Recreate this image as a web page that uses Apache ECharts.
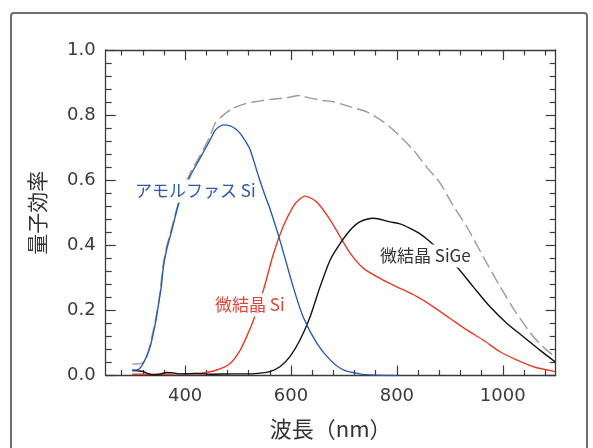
<!DOCTYPE html>
<html>
<head>
<meta charset="utf-8">
<script src="https://cdn.jsdelivr.net/npm/echarts@6/dist/echarts.min.js"></script>
<style>
html,body{margin:0;padding:0;background:#fff;}
#chart{width:593px;height:448px;}
</style>
</head>
<body>
<div id="chart"></div>
<script>
// ---- data ----
const xMajorTicks = [400, 600, 800, 1000];
const xMinorTicks = [280, 320, 360, 440, 480, 520, 560, 640, 680, 720, 760, 840, 880, 920, 960, 1040, 1080];

const amorphousX = [300, 312, 320, 327, 334, 340, 345, 349, 355, 359, 365, 375, 390, 409, 428, 447, 457, 465, 472, 485, 495, 504, 513, 523, 540, 554, 560, 579, 604, 623, 649, 674, 699, 730, 760, 800];
const amorphousY = [0.017, 0.019, 0.035, 0.058, 0.088, 0.13, 0.17, 0.211, 0.273, 0.334, 0.386, 0.447, 0.539, 0.611, 0.667, 0.723, 0.754, 0.765, 0.770, 0.767, 0.758, 0.744, 0.722, 0.693, 0.605, 0.539, 0.514, 0.416, 0.273, 0.18, 0.099, 0.048, 0.017, 0.005, 0.001, 0.0];

const totalX = [300, 318, 327, 340, 350, 359, 365, 375, 390, 409, 428, 447, 457, 472, 491, 516, 540, 560, 590, 617, 636, 660, 680, 711, 743, 774, 800, 831, 856, 882, 907, 932, 963, 995, 1026, 1058, 1083, 1099];
const totalY = [0.035, 0.037, 0.055, 0.14, 0.225, 0.345, 0.395, 0.455, 0.545, 0.62, 0.675, 0.735, 0.775, 0.800, 0.821, 0.836, 0.843, 0.848, 0.853, 0.860, 0.852, 0.845, 0.841, 0.826, 0.810, 0.780, 0.744, 0.693, 0.641, 0.590, 0.520, 0.457, 0.365, 0.273, 0.191, 0.119, 0.078, 0.058];

const microSiX = [300, 350, 400, 430, 460, 485, 504, 519, 529, 548, 567, 585, 604, 615, 627, 640, 651, 674, 693, 712, 737, 774, 806, 838, 869, 900, 932, 963, 995, 1026, 1058, 1099];
const microSiY = [0.004, 0.004, 0.005, 0.007, 0.017, 0.037, 0.078, 0.13, 0.17, 0.263, 0.375, 0.457, 0.519, 0.540, 0.551, 0.543, 0.529, 0.478, 0.426, 0.375, 0.329, 0.293, 0.268, 0.242, 0.211, 0.176, 0.14, 0.109, 0.073, 0.048, 0.027, 0.012];

const microSiGeX = [300, 315, 321, 330, 340, 352, 365, 378, 390, 420, 450, 490, 523, 545, 560, 579, 598, 617, 636, 655, 674, 693, 712, 730, 756, 787, 806, 825, 844, 866, 913, 944, 976, 1008, 1039, 1070, 1099];
const microSiGeY = [0.015, 0.014, 0.012, 0.006, 0.002, 0.004, 0.009, 0.008, 0.005, 0.006, 0.004, 0.005, 0.005, 0.008, 0.012, 0.027, 0.058, 0.109, 0.18, 0.273, 0.355, 0.406, 0.447, 0.472, 0.483, 0.472, 0.466, 0.452, 0.435, 0.406, 0.334, 0.273, 0.211, 0.16, 0.119, 0.078, 0.042];

const labels = {
  amorphous: 'アモルファス Si',
  microSi: '微結晶 Si',
  microSiGe: '微結晶 SiGe',
  xName: '波長（nm）',
  yName: '量子効率'
};

function pairs(xs, ys){ return xs.map((x,i)=>[x, ys[i]]); }

const chart = echarts.init(document.getElementById('chart'), null, {renderer:'canvas'});
const axisColor = '#3a3a3a';
const jpFont = "'Noto Sans CJK JP', sans-serif";
const numFont = "'DejaVu Sans', sans-serif";

function xAxisDef(pos, ticks, len, showLine, showLabel){
  return {
    type:'value', min:250, max:1100, position:pos,
    axisLine:{show:showLine, onZero:false, lineStyle:{color:axisColor, width:1.3}},
    axisTick:{show:true, inside:true, length:len, customValues:ticks, lineStyle:{color:axisColor, width:1.2}},
    axisLabel:{show:showLabel, customValues:ticks, fontSize:18, fontFamily:numFont, color:axisColor, margin:12,
      formatter:v=>String(v)},
    splitLine:{show:false}
  };
}
function yAxisDef(pos, showLabel){
  return {
    type:'value', min:0, max:1, interval:0.2, position:pos,
    axisLine:{show:true, onZero:false, lineStyle:{color:axisColor, width:1.3}},
    axisTick:{show:true, inside:true, length:10, lineStyle:{color:axisColor, width:1.2}},
    minorTick:{show:true, splitNumber:5, length:6, lineStyle:{color:axisColor, width:1.2}},
    axisLabel:{show:showLabel, fontSize:18, fontFamily:numFont, color:axisColor, margin:10, formatter:v=>v.toFixed(1)},
    splitLine:{show:false}, minorSplitLine:{show:false}
  };
}

const xAxes = [
  xAxisDef('bottom', xMajorTicks, 10, true, true),
  xAxisDef('bottom', xMinorTicks, 5.5, false, false),
  xAxisDef('top', xMajorTicks, 10, true, false),
  xAxisDef('top', xMinorTicks, 5.5, false, false)
];
xAxes[0].name = labels.xName;
xAxes[0].nameLocation = 'middle';
xAxes[0].nameGap = 42;
xAxes[0].nameTextStyle = {fontSize:22, fontFamily:jpFont, color:'#333'};

const yAxes = [yAxisDef('left', true), yAxisDef('right', false)];
yAxes[0].name = labels.yName;
yAxes[0].nameLocation = 'middle';
yAxes[0].nameRotate = 90;
yAxes[0].nameGap = 58;
yAxes[0].nameTextStyle = {fontSize:21, fontFamily:jpFont, color:'#333'};

function lineSeries(xs, ys, color, dash){
  return {
    type:'line', xAxisIndex:0, yAxisIndex:0, data:pairs(xs, ys),
    showSymbol:false, smooth:0.25, animation:false, z:2,
    lineStyle:{color:color, width:1.4, type: dash ? [13,5] : 'solid'}
  };
}

function label(text, x, y, color){
  return {
    type:'text', z:100, x:x, y:y,
    style:{text:text, fill:color, font:"17px 'Noto Sans CJK JP', sans-serif",
      textVerticalAlign:'middle', backgroundColor:'#fff', padding:[3,1,3,1]}
  };
}

chart.setOption({
  animation:false,
  backgroundColor:'#fff',
  grid:{left:105.7, right:37.3, top:50, bottom:72.5, containLabel:false},
  xAxis:xAxes,
  yAxis:yAxes,
  series:[
    lineSeries(totalX, totalY, '#9a9a9a', true),
    lineSeries(microSiX, microSiY, '#e63b2b', false),
    lineSeries(microSiGeX, microSiGeY, '#111111', false),
    lineSeries(amorphousX, amorphousY, '#2b5cab', false)
  ],
  graphic:[
    {type:'rect', z:0, silent:true, shape:{x:11, y:13, width:576, height:460, r:3},
      style:{fill:'none', stroke:'#6e6e6e', lineWidth:2}},
    label(labels.amorphous, 134, 191, '#2d5ba6'),
    label(labels.microSi, 214, 305, '#e0453a'),
    label(labels.microSiGe, 379, 256, '#333333')
  ]
});
</script>
</body>
</html>
